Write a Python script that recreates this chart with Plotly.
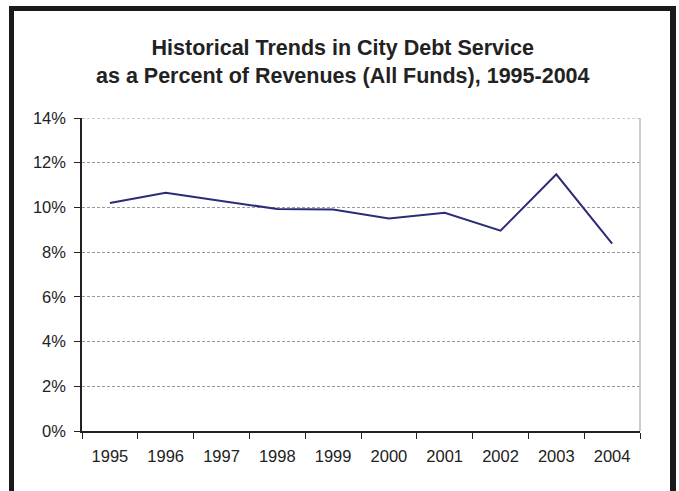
import plotly.graph_objects as go

# Debt service as a percent of revenues (all funds), by fiscal year
years = ["1995", "1996", "1997", "1998", "1999", "2000", "2001", "2002", "2003", "2004"]
debt_pct = [10.20, 10.66, 10.29, 9.93, 9.91, 9.51, 9.76, 8.96, 11.48, 8.38]
y_ticks = [0, 2, 4, 6, 8, 10, 12, 14]
y_tick_labels = ["0%", "2%", "4%", "6%", "8%", "10%", "12%", "14%"]

W, H = 679, 491
ML, MR, MT, MB = 82, 39, 118, 60
PW, PH = W - ML - MR, H - MT - MB


def px_x(px):
    return (px - ML) / PW


def px_y(py):
    return (H - MB - py) / PH


fig = go.Figure(
    go.Scatter(
        x=years,
        y=debt_pct,
        mode="lines",
        line=dict(color="#2B2B78", width=2),
        hoverinfo="x+y",
    )
)

font_family = "Liberation Sans, Arial, sans-serif"

fig.update_layout(
    width=W,
    height=H,
    margin=dict(l=ML, r=MR, t=MT, b=MB),
    paper_bgcolor="white",
    plot_bgcolor="white",
    showlegend=False,
    font=dict(family=font_family, size=16, color="#222222"),
)

fig.update_xaxes(
    type="category",
    range=[-0.5, len(years) - 0.5],
    tickson="boundaries",
    ticks="outside",
    ticklen=6,
    tickcolor="#222222",
    showline=True,
    linecolor="#222222",
    linewidth=1.5,
    showgrid=False,
    tickfont=dict(size=16.5),
    ticklabelstandoff=9,
)

fig.update_yaxes(
    range=[0, 14],
    tickmode="array",
    tickvals=y_ticks,
    ticktext=y_tick_labels,
    ticks="outside",
    ticklen=6,
    tickcolor="#222222",
    showline=True,
    linecolor="#222222",
    linewidth=1.5,
    showgrid=True,
    gridcolor="#9A9A9A",
    griddash="3px,2px",
    gridwidth=1,
    zeroline=False,
    tickfont=dict(size=16.5),
    ticklabelstandoff=5,
)

shapes = [
    # top gridline at the end of the value range
    dict(type="line", xref="paper", yref="y", x0=0, x1=1, y0=y_ticks[-1], y1=y_ticks[-1],
         line=dict(color="#9A9A9A", width=1, dash="3px,2px"), layer="below"),
    # right edge of the plot area
    dict(type="line", xref="paper", yref="paper", x0=1, x1=1, y0=0, y1=1,
         line=dict(color="#BDBDBD", width=1.5), layer="above"),
    # frame around the chart
    dict(type="rect", xref="paper", yref="paper",
         x0=px_x(9), x1=px_x(14), y0=px_y(H + 5), y1=px_y(6),
         fillcolor="#1A1A1A", line=dict(width=0), layer="above"),
    dict(type="rect", xref="paper", yref="paper",
         x0=px_x(9), x1=px_x(676), y0=px_y(11), y1=px_y(6),
         fillcolor="#1A1A1A", line=dict(width=0), layer="above"),
    dict(type="rect", xref="paper", yref="paper",
         x0=px_x(670), x1=px_x(676), y0=px_y(H + 5), y1=px_y(6),
         fillcolor="#1A1A1A", line=dict(width=0), layer="above"),
]
fig.update_layout(shapes=shapes)

fig.add_annotation(
    text="<b>Historical Trends in City Debt Service<br>"
         "as a Percent of Revenues (All Funds), 1995-2004</b>",
    xref="paper", yref="paper",
    x=px_x(343), y=px_y(62),
    xanchor="center", yanchor="middle",
    showarrow=False,
    align="center",
    font=dict(family=font_family, size=21.5, color="#222222"),
)

fig.write_html("out.html")
